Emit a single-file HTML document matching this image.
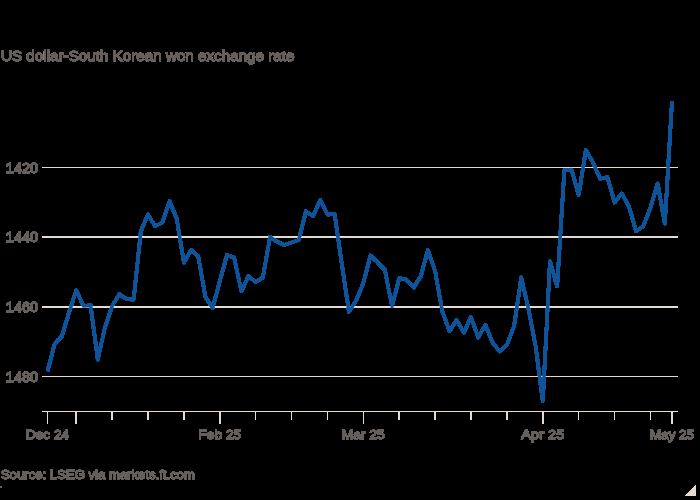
<!DOCTYPE html>
<html><head><meta charset="utf-8"><title>US dollar-South Korean won exchange rate</title>
<style>
html,body{margin:0;padding:0;background:#000000;}
body{width:700px;height:500px;overflow:hidden;}
svg{display:block;}
text{font-family:"Liberation Sans",sans-serif;font-size:13.6px;fill:#66605c;stroke:#66605c;stroke-width:0.5px;}
</style></head><body>
<svg width="700" height="500" viewBox="0 0 700 500">
<defs><filter id="ab" x="0" y="0" width="700" height="500" filterUnits="userSpaceOnUse" color-interpolation-filters="sRGB"><feComponentTransfer><feFuncA type="linear" slope="255" intercept="0"/></feComponentTransfer></filter></defs>
<rect x="0" y="0" width="700" height="500" fill="#000000"/>
<g filter="url(#ab)">
<g stroke="#e6d9ce" stroke-width="1" fill="none"><line x1="42" x2="678" y1="167.5" y2="167.5"/><line x1="42" x2="678" y1="237.17" y2="237.17"/><line x1="42" x2="678" y1="306.83" y2="306.83"/><line x1="42" x2="678" y1="376.5" y2="376.5"/><line x1="42" x2="678" y1="411.5" y2="411.5"/><line x1="47.5" x2="47.5" y1="411" y2="424"/><line x1="76.0" x2="76.0" y1="411" y2="424"/><line x1="220.0" x2="220.0" y1="411" y2="424"/><line x1="363.5" x2="363.5" y1="411" y2="424"/><line x1="543.0" x2="543.0" y1="411" y2="424"/><line x1="672.0" x2="672.0" y1="411" y2="424"/><line x1="112.0" x2="112.0" y1="411" y2="420"/><line x1="148.0" x2="148.0" y1="411" y2="420"/><line x1="184.0" x2="184.0" y1="411" y2="420"/><line x1="255.5" x2="255.5" y1="411" y2="420"/><line x1="291.5" x2="291.5" y1="411" y2="420"/><line x1="327.5" x2="327.5" y1="411" y2="420"/><line x1="399.0" x2="399.0" y1="411" y2="420"/><line x1="435.0" x2="435.0" y1="411" y2="420"/><line x1="471.0" x2="471.0" y1="411" y2="420"/><line x1="507.0" x2="507.0" y1="411" y2="420"/><line x1="578.5" x2="578.5" y1="411" y2="420"/><line x1="614.5" x2="614.5" y1="411" y2="420"/><line x1="650.5" x2="650.5" y1="411" y2="420"/></g>
<polygon points="696,485 696,496 685,496" fill="#e6d9ce"/>
<g><text x="1" y="61.0" style="font-size:13.8px" textLength="293.5" lengthAdjust="spacingAndGlyphs">US dollar-South Korean won exchange rate</text><text x="5.8" y="172.7" style="font-size:14.2px" textLength="32.4" lengthAdjust="spacingAndGlyphs">1420</text><text x="5.8" y="242.4" style="font-size:14.2px" textLength="32.4" lengthAdjust="spacingAndGlyphs">1440</text><text x="5.8" y="312.0" style="font-size:14.2px" textLength="32.4" lengthAdjust="spacingAndGlyphs">1460</text><text x="5.8" y="381.7" style="font-size:14.2px" textLength="32.4" lengthAdjust="spacingAndGlyphs">1480</text><text x="26.0" y="439.0" textLength="43" lengthAdjust="spacingAndGlyphs">Dec 24</text><text x="198.3" y="439.0" textLength="43" lengthAdjust="spacingAndGlyphs">Feb 25</text><text x="341.8" y="439.0" textLength="43" lengthAdjust="spacingAndGlyphs">Mar 25</text><text x="521.3" y="439.0" textLength="43" lengthAdjust="spacingAndGlyphs">Apr 25</text><text x="650.0" y="439.0" textLength="44" lengthAdjust="spacingAndGlyphs">May 25</text><text x="1" y="478.6" textLength="194" lengthAdjust="spacingAndGlyphs">Source: LSEG via markets.ft.com</text></g>
<rect x="0" y="486.5" width="1.5" height="1.5" fill="#66605c"/>
<polyline fill="none" stroke="#0f5499" stroke-width="3.3" stroke-linejoin="round" stroke-linecap="butt" points="47.50,371.25 54.68,343.75 61.86,336.25 69.03,312.50 76.21,290.20 83.39,305.80 90.57,305.30 97.75,359.50 104.93,327.50 112.10,306.00 119.28,294.25 126.46,299.00 133.64,299.50 140.82,231.25 147.99,214.50 155.17,226.25 162.35,222.50 169.53,201.25 176.71,218.75 183.89,262.50 191.06,250.00 198.24,256.25 205.42,297.00 212.60,308.00 219.78,281.25 226.95,255.00 234.13,257.50 241.31,291.25 248.49,276.25 255.67,282.00 262.84,277.50 270.02,237.00 277.20,241.75 284.38,245.00 291.56,242.50 298.74,240.00 305.91,211.25 313.09,216.25 320.27,200.00 327.45,214.50 334.63,213.75 341.80,264.00 348.98,312.00 356.16,300.50 363.34,283.00 370.52,255.50 377.70,262.50 384.87,270.00 392.05,306.25 399.23,278.00 406.41,279.50 413.59,287.50 420.76,276.25 427.94,250.00 435.12,271.25 442.30,311.25 449.48,331.25 456.66,320.00 463.83,332.50 471.01,317.00 478.19,337.50 485.37,324.75 492.55,342.50 499.72,351.50 506.90,345.00 514.08,326.00 521.26,277.50 528.44,308.75 535.61,346.25 542.79,401.25 549.97,261.25 557.15,286.25 564.33,170.50 571.51,169.50 578.68,195.00 585.86,150.00 593.04,162.50 600.22,179.00 607.40,177.00 614.57,202.50 621.75,193.50 628.93,206.50 636.11,231.25 643.29,226.25 650.47,207.50 657.64,183.50 664.82,223.75 672.00,101.25"/>
</g></svg></body></html>
